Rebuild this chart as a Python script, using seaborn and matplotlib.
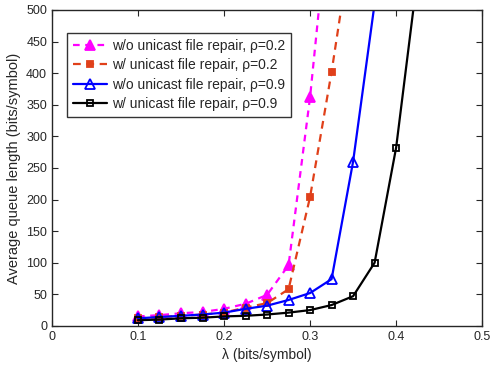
import numpy as np
import pandas as pd
import matplotlib
matplotlib.use("Agg")
import matplotlib.pyplot as plt
import seaborn as sns

# ================= DATA =================
lam_mag = [0.1, 0.125, 0.15, 0.175, 0.2, 0.225, 0.25, 0.275, 0.3, 0.325]
q_mag = [15, 17, 20, 22, 27, 35, 49, 96, 362, 700]

lam_red = [0.1, 0.125, 0.15, 0.175, 0.2, 0.225, 0.25, 0.275, 0.3, 0.325, 0.35]
q_red = [12, 14, 16, 18, 21, 29, 36, 58, 204, 402, 625]

lam_blue = [0.1, 0.125, 0.15, 0.175, 0.2, 0.225, 0.25, 0.275, 0.3, 0.325, 0.35, 0.375]
q_blue = [12, 14, 16, 18, 21, 27, 32, 41, 52, 74, 260, 510]

lam_blk = [0.1, 0.125, 0.15, 0.175, 0.2, 0.225, 0.25, 0.275, 0.3, 0.325, 0.35, 0.375, 0.4, 0.425]
q_blk = [9, 10, 12, 13, 15, 16, 18, 21, 25, 33, 47, 100, 282, 555]

labels = [
    "w/o unicast file repair, \u03c1=0.2",
    "w/ unicast file repair, \u03c1=0.2",
    "w/o unicast file repair, \u03c1=0.9",
    "w/ unicast file repair, \u03c1=0.9",
]

# ================= PLOT =================
sns.set_style("ticks")
plt.rcParams["font.family"] = ["Liberation Sans", "DejaVu Sans"]

fig, ax = plt.subplots(figsize=(4.9, 3.67), dpi=100)
fig.subplots_adjust(left=0.106, right=0.984, top=0.973, bottom=0.112)

series = [
    (lam_mag, q_mag, "#ff00ff", (0, (3, 2.5)), "^", "#ff00ff", 7),
    (lam_red, q_red, "#e0401a", (0, (3.5, 2.5)), "s", "#e0401a", 4.5),
    (lam_blue, q_blue, "#0000ff", "-", "^", "none", 7),
    (lam_blk, q_blk, "black", "-", "s", "none", 4.5),
]
for (x, y, c, ls, mk, mfc, ms), lab in zip(series, labels):
    df = pd.DataFrame({"x": x, "y": y})
    sns.lineplot(data=df, x="x", y="y", ax=ax, color=c, linestyle=ls,
                 marker=mk, markersize=ms, markerfacecolor=mfc,
                 markeredgecolor=c, markeredgewidth=1.3, linewidth=1.6,
                 label=lab)

ax.set_xlim(0, 0.5)
ax.set_ylim(0, 500)
ax.set_xticks([0, 0.1, 0.2, 0.3, 0.4, 0.5])
ax.set_xticklabels(["0", "0.1", "0.2", "0.3", "0.4", "0.5"])
ax.set_yticks(range(0, 501, 50))
ax.tick_params(direction="in", top=True, right=True, labelsize=9, length=4)
for s in ax.spines.values():
    s.set_linewidth(1.0)
ax.set_xlabel("\u03bb (bits/symbol)", fontsize=10, labelpad=4)
ax.set_ylabel("Average queue length (bits/symbol)", fontsize=10.5, labelpad=4)

leg = ax.legend(loc="upper left", bbox_to_anchor=(0.035, 0.927), fontsize=10,
                frameon=True, fancybox=False, edgecolor="black",
                handlelength=2.5, borderpad=0.4, labelspacing=0.4,
                handletextpad=0.35, borderaxespad=0)
leg.get_frame().set_linewidth(1.0)

plt.savefig("out.png", dpi=100)
